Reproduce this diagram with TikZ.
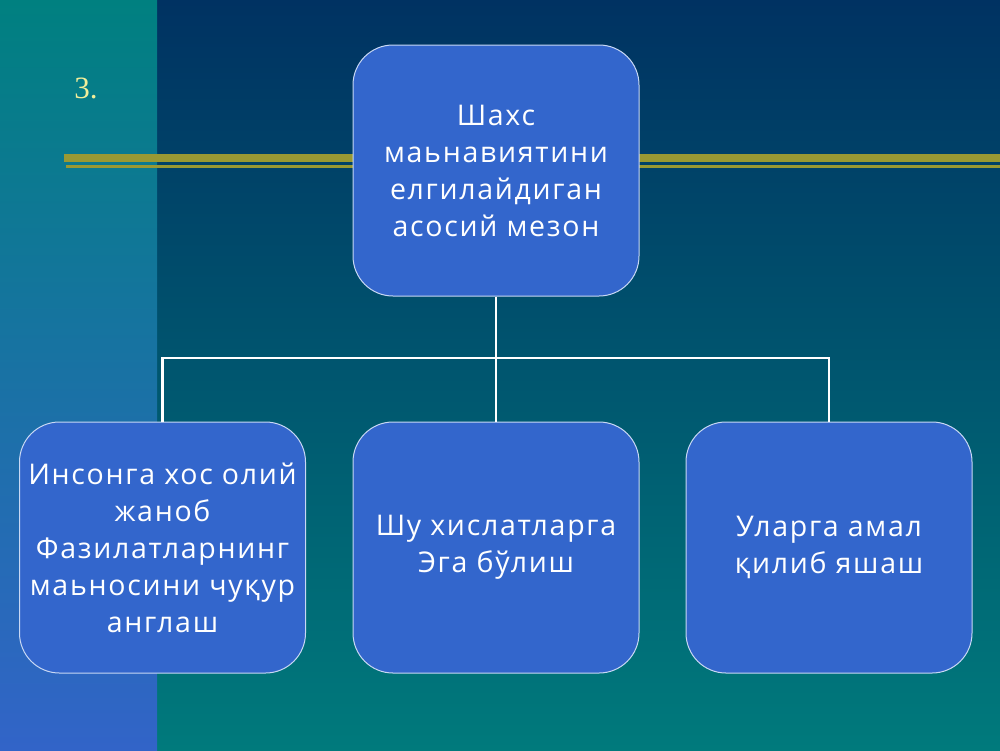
\documentclass[tikz,border=0pt]{standalone}
\usepackage{fontspec}
\newfontfamily\boxfont[LetterSpace=6]{Open Sans}
\newfontfamily\numfont{Liberation Serif}
\definecolor{boxblue}{HTML}{3366CC}
\definecolor{boxline}{HTML}{C8D8F4}
\definecolor{olive}{HTML}{999933}
\definecolor{numyellow}{HTML}{F2EE9A}
\begin{document}
\begin{tikzpicture}[x=1pt,y=-1pt,
  box/.style={draw=boxline, line width=1pt, fill=boxblue, rounded corners=40pt,
    minimum width=286pt, minimum height=251pt, inner sep=0pt, align=center,
    text=white, font=\boxfont\fontsize{28.5}{37}\selectfont},
  conn/.style={draw=white, line width=2.6pt}]
\useasboundingbox (0,0) rectangle (1000,750);
% background
\shade[top color={rgb,255:red,0;green,50;blue,98}, bottom color={rgb,255:red,0;green,122;blue,124}] (157,0) rectangle (1000,750);
\shade[top color={rgb,255:red,0;green,128;blue,128}, bottom color={rgb,255:red,50;green,100;blue,200}] (0,0) rectangle (157,750);
% rules
\fill[olive] (64,154) rectangle (1000,162);
\fill[olive] (66,165) rectangle (1000,167.5);
\node[text=numyellow, font=\numfont\fontsize{31}{34}\selectfont] (num) at (86,88) {3.};
% boxes
\node[box] (top) at (496,170.5) {Шахс\\маьнавиятини\\ елгилайдиган\\асосий мезон};
\node[box] (bl) at (162.5,547.5) {Инсонга хос олий\\жаноб\\ Фазилатларнинг\\маьносини чуқур\\англаш};
\node[box] (bm) at (496,547.5) {Шу хислатларга\\Эга бўлиш};
\node[box] (br) at (829,547.5) {Уларга амал\\қилиб яшаш};
\coordinate (bar) at (496,358);
\draw[conn] (top.south) -- (bm.north);
\draw[conn] (bl.north) |- (bar);
\draw[conn] (br.north) |- (bar);
\end{tikzpicture}
\end{document}
